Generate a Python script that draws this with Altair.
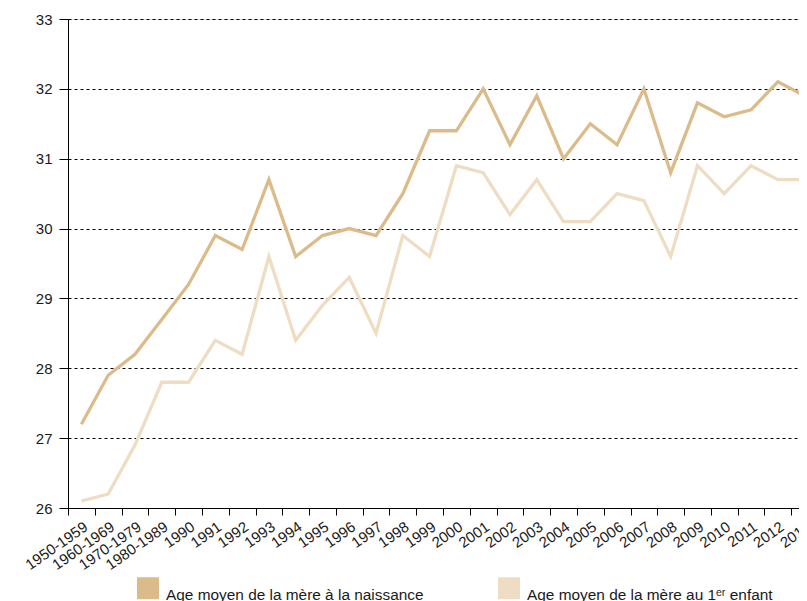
import altair as alt
import pandas as pd

periods = ["1950-1959", "1960-1969", "1970-1979", "1980-1989", "1990", "1991", "1992",
           "1993", "1994", "1995", "1996", "1997", "1998", "1999", "2000", "2001", "2002",
           "2003", "2004", "2005", "2006", "2007", "2008", "2009", "2010", "2011", "2012", "2013"]

age_naissance = [27.2, 27.9, 28.2, 28.7, 29.2, 29.9, 29.7, 30.7, 29.6, 29.9, 30.0, 29.9, 30.5, 31.4,
                 31.4, 32.0, 31.2, 31.9, 31.0, 31.5, 31.2, 32.0, 30.8, 31.8, 31.6, 31.7, 32.1, 31.9]

age_premier = [26.1, 26.2, 26.9, 27.8, 27.8, 28.4, 28.2, 29.6, 28.4, 28.9, 29.3, 28.5, 29.9, 29.6,
               30.9, 30.8, 30.2, 30.7, 30.1, 30.1, 30.5, 30.4, 29.6, 30.9, 30.5, 30.9, 30.7, 30.7]

series_names = ["Age moyen de la mère à la naissance", "Age moyen de la mère au 1\u1d49\u02b3 enfant"]
series_colors = ["#DCBB8A", "#EEDDC3"]

rows = []
for p, v in zip(periods, age_naissance):
    rows.append({"periode": p, "age": v, "serie": series_names[0]})
for p, v in zip(periods, age_premier):
    rows.append({"periode": p, "age": v, "serie": series_names[1]})
df = pd.DataFrame(rows)

FONT = "Liberation Sans"

color_scale = alt.Scale(domain=series_names, range=series_colors)

x_enc = alt.X(
    "periode:N",
    sort=periods,
    bandPosition=0.5,
    scale=alt.Scale(type="band", paddingInner=0, paddingOuter=0, range=[0, 750]),
    axis=alt.Axis(
        title=None,
        tickBand="extent",
        labelAngle=-35,
        labelFontSize=15,
        labelFont=FONT,
        labelColor="#1a1a1a",
        labelPadding=4,
        tickSize=7,
        tickColor="#000000",
        domainColor="#000000",
        tickWidth=1,
        domainWidth=1,
        grid=False,
    ),
)

y_enc = alt.Y(
    "age:Q",
    scale=alt.Scale(domain=[26, 33], nice=False, zero=False),
    axis=alt.Axis(
        title=None,
        values=[26, 27, 28, 29, 30, 31, 32, 33],
        format="d",
        labelFontSize=15,
        labelFont=FONT,
        labelColor="#1a1a1a",
        labelPadding=7,
        tickSize=9,
        tickColor="#000000",
        domainColor="#000000",
        grid=True,
        gridColor="#000000",
        gridDash=[3, 3],
        gridWidth=1,
        gridOpacity=1,
    ),
)

chart = alt.Chart(df).mark_line().encode(
    x=x_enc,
    y=y_enc,
    strokeWidth=alt.value(3.3),
    color=alt.Color(
        "serie:N",
        scale=color_scale,
        legend=alt.Legend(
            title=None,
            orient="none",
            legendX=69,
            legendY=558,
            direction="horizontal",
            columns=2,
            columnPadding=57,
            symbolType="square",
            symbolSize=121,
            symbolStrokeWidth=11,
            symbolOpacity=1,
            labelFontSize=15.4,
            labelFont=FONT,
            labelColor="#1a1a1a",
            labelBaseline="top",
            labelOffset=7,
            labelLimit=500,
            padding=0,
        ),
    ),
).properties(
    width=731,
    height=489,
    autosize=alt.AutoSizeParams(type="none"),
    padding={"left": 60, "top": 11, "right": 0, "bottom": 100},
).configure_view(stroke=None).configure(font=FONT)

chart.save("out.html", embed_options={"renderer": "svg", "actions": False})
